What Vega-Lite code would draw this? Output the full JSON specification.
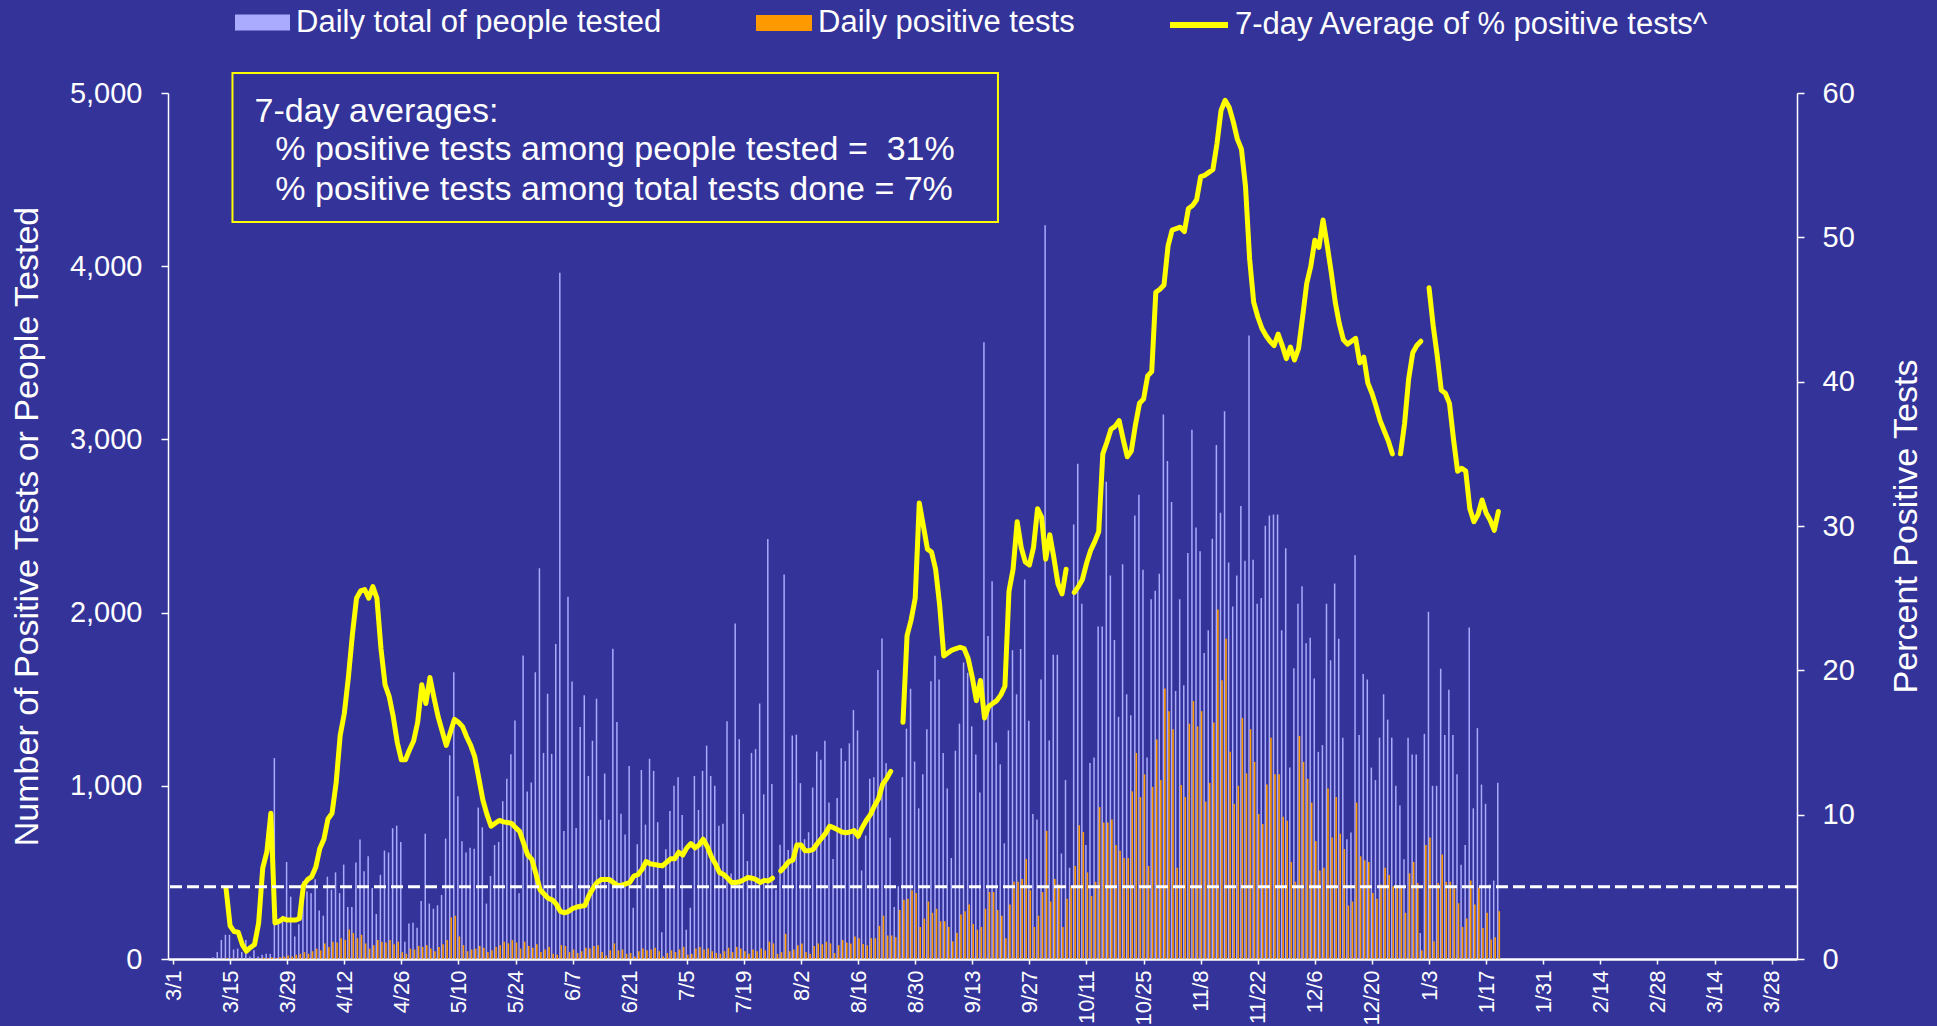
{
"$schema": "https://vega.github.io/schema/vega-lite/v6.json",
"width": 1629, "height": 866,
"autosize": {"type": "none"},
"padding": {"left": 168, "top": 93, "right": 140, "bottom": 67},
"background": "#333399",
"config": {
  "view": {"stroke": null},
  "font": "Liberation Sans",
  "axis": {"grid": false, "domainColor": "white", "tickColor": "white", "labelColor": "white", "titleColor": "white", "labelFont": "Liberation Sans", "titleFont": "Liberation Sans", "titleFontWeight": "normal"},
  "axisX": {"labelFontSize": 22, "labelAngle": 270, "labelPadding": 6, "tickSize": 5, "tickWidth": 1.5, "domainWidth": 2.5, "labelOverlap": false, "labelFlush": false},
  "axisY": {"labelFontSize": 29, "tickSize": 7, "tickWidth": 1.5, "domainWidth": 1.5, "titleFontSize": 34, "labelOverlap": false},
  "legend": {"labelColor": "white", "labelFont": "Liberation Sans", "labelFontSize": 31, "labelLimit": 1000, "padding": 0, "labelOffset": 6, "direction": "horizontal"}
},
"datasets": {"daily": [
{"date":"2020-03-11","tested":10,"positive":0,"pct":null,"seg":1},
{"date":"2020-03-12","tested":40,"positive":0,"pct":null,"seg":1},
{"date":"2020-03-13","tested":110,"positive":2,"pct":null,"seg":1},
{"date":"2020-03-14","tested":140,"positive":5,"pct":4.9,"seg":1},
{"date":"2020-03-15","tested":140,"positive":3,"pct":2.3,"seg":1},
{"date":"2020-03-16","tested":55,"positive":1,"pct":1.9,"seg":1},
{"date":"2020-03-17","tested":60,"positive":1,"pct":1.85,"seg":1},
{"date":"2020-03-18","tested":40,"positive":0,"pct":1.0,"seg":1},
{"date":"2020-03-19","tested":110,"positive":1,"pct":0.55,"seg":1},
{"date":"2020-03-20","tested":15,"positive":0,"pct":0.8,"seg":1},
{"date":"2020-03-21","tested":50,"positive":3,"pct":1.0,"seg":1},
{"date":"2020-03-22","tested":15,"positive":2,"pct":2.5,"seg":1},
{"date":"2020-03-23","tested":25,"positive":8,"pct":6.3,"seg":1},
{"date":"2020-03-24","tested":30,"positive":4,"pct":7.4,"seg":1},
{"date":"2020-03-25","tested":30,"positive":10,"pct":10.1,"seg":1},
{"date":"2020-03-26","tested":1160,"positive":5,"pct":2.5,"seg":1},
{"date":"2020-03-27","tested":230,"positive":10,"pct":2.6,"seg":1},
{"date":"2020-03-28","tested":250,"positive":15,"pct":2.8,"seg":1},
{"date":"2020-03-29","tested":560,"positive":20,"pct":2.7,"seg":1},
{"date":"2020-03-30","tested":360,"positive":15,"pct":2.7,"seg":1},
{"date":"2020-03-31","tested":130,"positive":25,"pct":2.7,"seg":1},
{"date":"2020-04-01","tested":200,"positive":30,"pct":2.8,"seg":1},
{"date":"2020-04-02","tested":450,"positive":40,"pct":5.1,"seg":1},
{"date":"2020-04-03","tested":390,"positive":30,"pct":5.5,"seg":1},
{"date":"2020-04-04","tested":380,"positive":45,"pct":5.7,"seg":1},
{"date":"2020-04-05","tested":460,"positive":60,"pct":6.35,"seg":1},
{"date":"2020-04-06","tested":280,"positive":50,"pct":7.65,"seg":1},
{"date":"2020-04-07","tested":250,"positive":90,"pct":8.3,"seg":1},
{"date":"2020-04-08","tested":475,"positive":70,"pct":9.7,"seg":1},
{"date":"2020-04-09","tested":400,"positive":100,"pct":10.1,"seg":1},
{"date":"2020-04-10","tested":500,"positive":95,"pct":12.2,"seg":1},
{"date":"2020-04-11","tested":380,"positive":120,"pct":15.5,"seg":1},
{"date":"2020-04-12","tested":545,"positive":110,"pct":17,"seg":1},
{"date":"2020-04-13","tested":300,"positive":170,"pct":19.5,"seg":1},
{"date":"2020-04-14","tested":300,"positive":150,"pct":22.5,"seg":1},
{"date":"2020-04-15","tested":557,"positive":120,"pct":25,"seg":1},
{"date":"2020-04-16","tested":690,"positive":140,"pct":25.5,"seg":1},
{"date":"2020-04-17","tested":507,"positive":90,"pct":25.6,"seg":1},
{"date":"2020-04-18","tested":593,"positive":60,"pct":25.0,"seg":1},
{"date":"2020-04-19","tested":410,"positive":80,"pct":25.8,"seg":1},
{"date":"2020-04-20","tested":260,"positive":110,"pct":25,"seg":1},
{"date":"2020-04-21","tested":486,"positive":100,"pct":21.5,"seg":1},
{"date":"2020-04-22","tested":626,"positive":95,"pct":19,"seg":1},
{"date":"2020-04-23","tested":615,"positive":110,"pct":18.2,"seg":1},
{"date":"2020-04-24","tested":755,"positive":85,"pct":16.8,"seg":1},
{"date":"2020-04-25","tested":770,"positive":100,"pct":15,"seg":1},
{"date":"2020-04-26","tested":676,"positive":40,"pct":13.8,"seg":1},
{"date":"2020-04-27","tested":100,"positive":30,"pct":13.8,"seg":1},
{"date":"2020-04-28","tested":205,"positive":60,"pct":14.5,"seg":1},
{"date":"2020-04-29","tested":210,"positive":55,"pct":15.1,"seg":1},
{"date":"2020-04-30","tested":180,"positive":75,"pct":16.4,"seg":1},
{"date":"2020-05-01","tested":335,"positive":70,"pct":19,"seg":1},
{"date":"2020-05-02","tested":723,"positive":80,"pct":17.7,"seg":1},
{"date":"2020-05-03","tested":320,"positive":60,"pct":19.5,"seg":1},
{"date":"2020-05-04","tested":290,"positive":45,"pct":18.1,"seg":1},
{"date":"2020-05-05","tested":310,"positive":70,"pct":16.8,"seg":1},
{"date":"2020-05-06","tested":370,"positive":85,"pct":15.8,"seg":1},
{"date":"2020-05-07","tested":695,"positive":110,"pct":14.8,"seg":1},
{"date":"2020-05-08","tested":1176,"positive":240,"pct":15.7,"seg":1},
{"date":"2020-05-09","tested":1655,"positive":250,"pct":16.6,"seg":1},
{"date":"2020-05-10","tested":939,"positive":130,"pct":16.4,"seg":1},
{"date":"2020-05-11","tested":680,"positive":80,"pct":16.1,"seg":1},
{"date":"2020-05-12","tested":615,"positive":45,"pct":15.4,"seg":1},
{"date":"2020-05-13","tested":643,"positive":55,"pct":14.8,"seg":1},
{"date":"2020-05-14","tested":637,"positive":60,"pct":14,"seg":1},
{"date":"2020-05-15","tested":874,"positive":75,"pct":12.5,"seg":1},
{"date":"2020-05-16","tested":760,"positive":65,"pct":11,"seg":1},
{"date":"2020-05-17","tested":320,"positive":40,"pct":10,"seg":1},
{"date":"2020-05-18","tested":479,"positive":50,"pct":9.2,"seg":1},
{"date":"2020-05-19","tested":658,"positive":70,"pct":9.4,"seg":1},
{"date":"2020-05-20","tested":676,"positive":80,"pct":9.6,"seg":1},
{"date":"2020-05-21","tested":911,"positive":100,"pct":9.5,"seg":1},
{"date":"2020-05-22","tested":1040,"positive":90,"pct":9.46,"seg":1},
{"date":"2020-05-23","tested":1182,"positive":110,"pct":9.4,"seg":1},
{"date":"2020-05-24","tested":1377,"positive":95,"pct":9.1,"seg":1},
{"date":"2020-05-25","tested":380,"positive":60,"pct":8.85,"seg":1},
{"date":"2020-05-26","tested":1752,"positive":100,"pct":8,"seg":1},
{"date":"2020-05-27","tested":967,"positive":75,"pct":7.2,"seg":1},
{"date":"2020-05-28","tested":1019,"positive":65,"pct":6.9,"seg":1},
{"date":"2020-05-29","tested":1655,"positive":85,"pct":5.9,"seg":1},
{"date":"2020-05-30","tested":2256,"positive":40,"pct":4.8,"seg":1},
{"date":"2020-05-31","tested":1190,"positive":55,"pct":4.5,"seg":1},
{"date":"2020-06-01","tested":1531,"positive":70,"pct":4.2,"seg":1},
{"date":"2020-06-02","tested":1184,"positive":30,"pct":4.1,"seg":1},
{"date":"2020-06-03","tested":1819,"positive":25,"pct":3.8,"seg":1},
{"date":"2020-06-04","tested":3962,"positive":80,"pct":3.3,"seg":1},
{"date":"2020-06-05","tested":739,"positive":75,"pct":3.2,"seg":1},
{"date":"2020-06-06","tested":2092,"positive":40,"pct":3.3,"seg":1},
{"date":"2020-06-07","tested":1602,"positive":55,"pct":3.5,"seg":1},
{"date":"2020-06-08","tested":756,"positive":35,"pct":3.6,"seg":1},
{"date":"2020-06-09","tested":1339,"positive":45,"pct":3.65,"seg":1},
{"date":"2020-06-10","tested":1523,"positive":65,"pct":3.7,"seg":1},
{"date":"2020-06-11","tested":1057,"positive":60,"pct":4.4,"seg":1},
{"date":"2020-06-12","tested":1260,"positive":75,"pct":4.9,"seg":1},
{"date":"2020-06-13","tested":1503,"positive":80,"pct":5.3,"seg":1},
{"date":"2020-06-14","tested":804,"positive":40,"pct":5.5,"seg":1},
{"date":"2020-06-15","tested":1071,"positive":20,"pct":5.5,"seg":1},
{"date":"2020-06-16","tested":804,"positive":50,"pct":5.5,"seg":1},
{"date":"2020-06-17","tested":1791,"positive":90,"pct":5.3,"seg":1},
{"date":"2020-06-18","tested":1368,"positive":50,"pct":5.1,"seg":1},
{"date":"2020-06-19","tested":838,"positive":55,"pct":5.1,"seg":1},
{"date":"2020-06-20","tested":719,"positive":30,"pct":5.2,"seg":1},
{"date":"2020-06-21","tested":1114,"positive":35,"pct":5.3,"seg":1},
{"date":"2020-06-22","tested":296,"positive":15,"pct":5.75,"seg":1},
{"date":"2020-06-23","tested":663,"positive":45,"pct":5.85,"seg":1},
{"date":"2020-06-24","tested":1091,"positive":60,"pct":6.2,"seg":1},
{"date":"2020-06-25","tested":776,"positive":50,"pct":6.75,"seg":1},
{"date":"2020-06-26","tested":1156,"positive":55,"pct":6.6,"seg":1},
{"date":"2020-06-27","tested":1086,"positive":65,"pct":6.55,"seg":1},
{"date":"2020-06-28","tested":790,"positive":45,"pct":6.5,"seg":1},
{"date":"2020-06-29","tested":155,"positive":15,"pct":6.45,"seg":1},
{"date":"2020-06-30","tested":634,"positive":35,"pct":6.7,"seg":1},
{"date":"2020-07-01","tested":854,"positive":50,"pct":6.94,"seg":1},
{"date":"2020-07-02","tested":1001,"positive":40,"pct":6.94,"seg":1},
{"date":"2020-07-03","tested":1049,"positive":55,"pct":7.4,"seg":1},
{"date":"2020-07-04","tested":832,"positive":70,"pct":7.2,"seg":1},
{"date":"2020-07-05","tested":169,"positive":25,"pct":7.7,"seg":1},
{"date":"2020-07-06","tested":296,"positive":30,"pct":8.0,"seg":1},
{"date":"2020-07-07","tested":1057,"positive":60,"pct":7.7,"seg":1},
{"date":"2020-07-08","tested":860,"positive":70,"pct":7.9,"seg":1},
{"date":"2020-07-09","tested":1086,"positive":55,"pct":8.3,"seg":1},
{"date":"2020-07-10","tested":1232,"positive":60,"pct":7.8,"seg":1},
{"date":"2020-07-11","tested":1057,"positive":45,"pct":7.1,"seg":1},
{"date":"2020-07-12","tested":1001,"positive":35,"pct":6.6,"seg":1},
{"date":"2020-07-13","tested":770,"positive":30,"pct":6.0,"seg":1},
{"date":"2020-07-14","tested":781,"positive":45,"pct":5.86,"seg":1},
{"date":"2020-07-15","tested":1373,"positive":65,"pct":5.6,"seg":1},
{"date":"2020-07-16","tested":493,"positive":40,"pct":5.3,"seg":1},
{"date":"2020-07-17","tested":1937,"positive":70,"pct":5.3,"seg":1},
{"date":"2020-07-18","tested":1269,"positive":60,"pct":5.35,"seg":1},
{"date":"2020-07-19","tested":838,"positive":45,"pct":5.5,"seg":1},
{"date":"2020-07-20","tested":566,"positive":30,"pct":5.65,"seg":1},
{"date":"2020-07-21","tested":1190,"positive":55,"pct":5.6,"seg":1},
{"date":"2020-07-22","tested":1212,"positive":45,"pct":5.5,"seg":1},
{"date":"2020-07-23","tested":1475,"positive":60,"pct":5.3,"seg":1},
{"date":"2020-07-24","tested":951,"positive":50,"pct":5.45,"seg":1},
{"date":"2020-07-25","tested":2425,"positive":100,"pct":5.4,"seg":1},
{"date":"2020-07-26","tested":1010,"positive":90,"pct":5.6,"seg":1},
{"date":"2020-07-27","tested":400,"positive":30,"pct":null,"seg":1},
{"date":"2020-07-28","tested":660,"positive":40,"pct":6.1,"seg":2},
{"date":"2020-07-29","tested":2220,"positive":145,"pct":6.4,"seg":2},
{"date":"2020-07-30","tested":630,"positive":45,"pct":6.75,"seg":2},
{"date":"2020-07-31","tested":1290,"positive":55,"pct":6.85,"seg":2},
{"date":"2020-08-01","tested":1295,"positive":80,"pct":7.9,"seg":2},
{"date":"2020-08-02","tested":1015,"positive":90,"pct":7.9,"seg":2},
{"date":"2020-08-03","tested":692,"positive":40,"pct":7.5,"seg":2},
{"date":"2020-08-04","tested":732,"positive":30,"pct":7.5,"seg":2},
{"date":"2020-08-05","tested":990,"positive":75,"pct":7.6,"seg":2},
{"date":"2020-08-06","tested":1198,"positive":90,"pct":8.0,"seg":2},
{"date":"2020-08-07","tested":1150,"positive":85,"pct":8.35,"seg":2},
{"date":"2020-08-08","tested":1260,"positive":100,"pct":8.7,"seg":2},
{"date":"2020-08-09","tested":904,"positive":90,"pct":9.2,"seg":2},
{"date":"2020-08-10","tested":578,"positive":35,"pct":9.1,"seg":2},
{"date":"2020-08-11","tested":930,"positive":80,"pct":8.96,"seg":2},
{"date":"2020-08-12","tested":1217,"positive":110,"pct":8.8,"seg":2},
{"date":"2020-08-13","tested":1143,"positive":95,"pct":8.75,"seg":2},
{"date":"2020-08-14","tested":1245,"positive":90,"pct":8.8,"seg":2},
{"date":"2020-08-15","tested":1437,"positive":130,"pct":8.9,"seg":2},
{"date":"2020-08-16","tested":1320,"positive":120,"pct":8.5,"seg":2},
{"date":"2020-08-17","tested":511,"positive":87,"pct":9.1,"seg":2},
{"date":"2020-08-18","tested":713,"positive":80,"pct":9.6,"seg":2},
{"date":"2020-08-19","tested":1040,"positive":120,"pct":10,"seg":2},
{"date":"2020-08-20","tested":1050,"positive":120,"pct":10.6,"seg":2},
{"date":"2020-08-21","tested":1669,"positive":191,"pct":11.1,"seg":2},
{"date":"2020-08-22","tested":1850,"positive":250,"pct":12.1,"seg":2},
{"date":"2020-08-23","tested":1130,"positive":136,"pct":12.5,"seg":2},
{"date":"2020-08-24","tested":700,"positive":136,"pct":13,"seg":2},
{"date":"2020-08-25","tested":300,"positive":126,"pct":null,"seg":2},
{"date":"2020-08-26","tested":420,"positive":283,"pct":null,"seg":2},
{"date":"2020-08-27","tested":1050,"positive":342,"pct":16.4,"seg":3},
{"date":"2020-08-28","tested":1330,"positive":348,"pct":22.4,"seg":3},
{"date":"2020-08-29","tested":1560,"positive":397,"pct":23.5,"seg":3},
{"date":"2020-08-30","tested":1140,"positive":381,"pct":25,"seg":3},
{"date":"2020-08-31","tested":870,"positive":185,"pct":31.6,"seg":3},
{"date":"2020-09-01","tested":1066,"positive":234,"pct":30,"seg":3},
{"date":"2020-09-02","tested":1327,"positive":332,"pct":28.4,"seg":3},
{"date":"2020-09-03","tested":1604,"positive":267,"pct":28.2,"seg":3},
{"date":"2020-09-04","tested":1751,"positive":290,"pct":27,"seg":3},
{"date":"2020-09-05","tested":1614,"positive":218,"pct":24.5,"seg":3},
{"date":"2020-09-06","tested":1190,"positive":218,"pct":21,"seg":3},
{"date":"2020-09-07","tested":984,"positive":185,"pct":21.2,"seg":3},
{"date":"2020-09-08","tested":583,"positive":103,"pct":21.4,"seg":3},
{"date":"2020-09-09","tested":1203,"positive":152,"pct":21.5,"seg":3},
{"date":"2020-09-10","tested":1359,"positive":257,"pct":21.6,"seg":3},
{"date":"2020-09-11","tested":1712,"positive":276,"pct":21.5,"seg":3},
{"date":"2020-09-12","tested":1653,"positive":315,"pct":20.8,"seg":3},
{"date":"2020-09-13","tested":1343,"positive":202,"pct":19.5,"seg":3},
{"date":"2020-09-14","tested":1180,"positive":169,"pct":17.9,"seg":3},
{"date":"2020-09-15","tested":961,"positive":185,"pct":19.3,"seg":3},
{"date":"2020-09-16","tested":3561,"positive":290,"pct":16.7,"seg":3},
{"date":"2020-09-17","tested":1865,"positive":387,"pct":17.5,"seg":3},
{"date":"2020-09-18","tested":2181,"positive":387,"pct":17.7,"seg":3},
{"date":"2020-09-19","tested":1250,"positive":283,"pct":17.9,"seg":3},
{"date":"2020-09-20","tested":1124,"positive":250,"pct":18.3,"seg":3},
{"date":"2020-09-21","tested":668,"positive":120,"pct":18.9,"seg":3},
{"date":"2020-09-22","tested":1320,"positive":315,"pct":25.5,"seg":3},
{"date":"2020-09-23","tested":1783,"positive":446,"pct":27,"seg":3},
{"date":"2020-09-24","tested":1529,"positive":446,"pct":30.3,"seg":3},
{"date":"2020-09-25","tested":1790,"positive":462,"pct":28.5,"seg":3},
{"date":"2020-09-26","tested":2191,"positive":577,"pct":27.5,"seg":3},
{"date":"2020-09-27","tested":1376,"positive":397,"pct":27.3,"seg":3},
{"date":"2020-09-28","tested":837,"positive":185,"pct":28.5,"seg":3},
{"date":"2020-09-29","tested":805,"positive":250,"pct":31.2,"seg":3},
{"date":"2020-09-30","tested":1614,"positive":387,"pct":30.6,"seg":3},
{"date":"2020-10-01","tested":4236,"positive":740,"pct":27.7,"seg":3},
{"date":"2020-10-02","tested":1261,"positive":332,"pct":29.4,"seg":3},
{"date":"2020-10-03","tested":1757,"positive":462,"pct":27.8,"seg":3},
{"date":"2020-10-04","tested":1757,"positive":430,"pct":26,"seg":3},
{"date":"2020-10-05","tested":609,"positive":185,"pct":25.3,"seg":3},
{"date":"2020-10-06","tested":1033,"positive":348,"pct":27,"seg":3},
{"date":"2020-10-07","tested":527,"positive":420,"pct":null,"seg":3},
{"date":"2020-10-08","tested":2508,"positive":537,"pct":25.4,"seg":4},
{"date":"2020-10-09","tested":2860,"positive":772,"pct":25.8,"seg":4},
{"date":"2020-10-10","tested":2051,"positive":733,"pct":26.3,"seg":4},
{"date":"2020-10-11","tested":658,"positive":500,"pct":27.4,"seg":4},
{"date":"2020-10-12","tested":1131,"positive":364,"pct":28.3,"seg":4},
{"date":"2020-10-13","tested":1164,"positive":446,"pct":28.9,"seg":4},
{"date":"2020-10-14","tested":1920,"positive":877,"pct":29.6,"seg":4},
{"date":"2020-10-15","tested":1920,"positive":788,"pct":35,"seg":4},
{"date":"2020-10-16","tested":2755,"positive":788,"pct":35.8,"seg":4},
{"date":"2020-10-17","tested":2214,"positive":805,"pct":36.7,"seg":4},
{"date":"2020-10-18","tested":1842,"positive":658,"pct":36.9,"seg":4},
{"date":"2020-10-19","tested":1398,"positive":625,"pct":37.3,"seg":4},
{"date":"2020-10-20","tested":2279,"positive":583,"pct":36,"seg":4},
{"date":"2020-10-21","tested":1529,"positive":583,"pct":34.8,"seg":4},
{"date":"2020-10-22","tested":1408,"positive":968,"pct":35.2,"seg":4},
{"date":"2020-10-23","tested":2560,"positive":1190,"pct":37,"seg":4},
{"date":"2020-10-24","tested":2680,"positive":935,"pct":38.5,"seg":4},
{"date":"2020-10-25","tested":2247,"positive":1066,"pct":38.8,"seg":4},
{"date":"2020-10-26","tested":1164,"positive":537,"pct":40.4,"seg":4},
{"date":"2020-10-27","tested":2077,"positive":994,"pct":40.7,"seg":4},
{"date":"2020-10-28","tested":2126,"positive":1268,"pct":46.2,"seg":4},
{"date":"2020-10-29","tested":2224,"positive":1033,"pct":46.4,"seg":4},
{"date":"2020-10-30","tested":3144,"positive":1562,"pct":46.7,"seg":4},
{"date":"2020-10-31","tested":2876,"positive":1431,"pct":49.4,"seg":4},
{"date":"2020-11-01","tested":2638,"positive":1327,"pct":50.5,"seg":4},
{"date":"2020-11-02","tested":1548,"positive":527,"pct":50.6,"seg":4},
{"date":"2020-11-03","tested":2077,"positive":1004,"pct":50.7,"seg":4},
{"date":"2020-11-04","tested":1581,"positive":935,"pct":50.4,"seg":4},
{"date":"2020-11-05","tested":2344,"positive":1359,"pct":52,"seg":4},
{"date":"2020-11-06","tested":3056,"positive":1490,"pct":52.2,"seg":4},
{"date":"2020-11-07","tested":2491,"positive":1343,"pct":52.6,"seg":4},
{"date":"2020-11-08","tested":2354,"positive":1431,"pct":54.2,"seg":4},
{"date":"2020-11-09","tested":1767,"positive":909,"pct":54.3,"seg":4},
{"date":"2020-11-10","tested":1898,"positive":1017,"pct":54.5,"seg":4},
{"date":"2020-11-11","tested":2426,"positive":1366,"pct":54.7,"seg":4},
{"date":"2020-11-12","tested":2968,"positive":2018,"pct":56.5,"seg":4},
{"date":"2020-11-13","tested":2576,"positive":1610,"pct":58.8,"seg":4},
{"date":"2020-11-14","tested":3163,"positive":1849,"pct":59.5,"seg":4},
{"date":"2020-11-15","tested":2289,"positive":1196,"pct":59,"seg":4},
{"date":"2020-11-16","tested":2035,"positive":896,"pct":58,"seg":4},
{"date":"2020-11-17","tested":2214,"positive":1000,"pct":56.8,"seg":4},
{"date":"2020-11-18","tested":2615,"positive":1392,"pct":56.1,"seg":4},
{"date":"2020-11-19","tested":2299,"positive":1072,"pct":53.5,"seg":4},
{"date":"2020-11-20","tested":3600,"positive":1327,"pct":48.5,"seg":4},
{"date":"2020-11-21","tested":2305,"positive":1138,"pct":45.5,"seg":4},
{"date":"2020-11-22","tested":2051,"positive":837,"pct":44.5,"seg":4},
{"date":"2020-11-23","tested":2084,"positive":779,"pct":43.7,"seg":4},
{"date":"2020-11-24","tested":2501,"positive":1007,"pct":43.2,"seg":4},
{"date":"2020-11-25","tested":2560,"positive":1278,"pct":42.8,"seg":4},
{"date":"2020-11-26","tested":2566,"positive":1066,"pct":42.5,"seg":4},
{"date":"2020-11-27","tested":2566,"positive":1066,"pct":43.3,"seg":4},
{"date":"2020-11-28","tested":1898,"positive":821,"pct":42.5,"seg":4},
{"date":"2020-11-29","tested":2371,"positive":798,"pct":41.6,"seg":4},
{"date":"2020-11-30","tested":1105,"positive":560,"pct":42.4,"seg":4},
{"date":"2020-12-01","tested":1679,"positive":446,"pct":41.5,"seg":4},
{"date":"2020-12-02","tested":2051,"positive":1288,"pct":42.3,"seg":4},
{"date":"2020-12-03","tested":2152,"positive":1138,"pct":44.5,"seg":4},
{"date":"2020-12-04","tested":1823,"positive":1040,"pct":46.8,"seg":4},
{"date":"2020-12-05","tested":1855,"positive":903,"pct":48,"seg":4},
{"date":"2020-12-06","tested":1620,"positive":681,"pct":49.8,"seg":4},
{"date":"2020-12-07","tested":1196,"positive":511,"pct":49.3,"seg":4},
{"date":"2020-12-08","tested":1235,"positive":527,"pct":51.2,"seg":4},
{"date":"2020-12-09","tested":2051,"positive":984,"pct":49.5,"seg":4},
{"date":"2020-12-10","tested":1725,"positive":701,"pct":47.6,"seg":4},
{"date":"2020-12-11","tested":2168,"positive":935,"pct":45.5,"seg":4},
{"date":"2020-12-12","tested":1849,"positive":723,"pct":44,"seg":4},
{"date":"2020-12-13","tested":1278,"positive":635,"pct":42.9,"seg":4},
{"date":"2020-12-14","tested":691,"positive":309,"pct":42.6,"seg":4},
{"date":"2020-12-15","tested":730,"positive":332,"pct":42.8,"seg":4},
{"date":"2020-12-16","tested":2331,"positive":903,"pct":43,"seg":4},
{"date":"2020-12-17","tested":1294,"positive":593,"pct":41.3,"seg":4},
{"date":"2020-12-18","tested":1646,"positive":570,"pct":41.7,"seg":4},
{"date":"2020-12-19","tested":1614,"positive":560,"pct":39.9,"seg":4},
{"date":"2020-12-20","tested":1105,"positive":381,"pct":39.2,"seg":4},
{"date":"2020-12-21","tested":1033,"positive":348,"pct":38.3,"seg":4},
{"date":"2020-12-22","tested":1278,"positive":430,"pct":37.3,"seg":4},
{"date":"2020-12-23","tested":1529,"positive":527,"pct":36.6,"seg":4},
{"date":"2020-12-24","tested":1382,"positive":485,"pct":35.9,"seg":4},
{"date":"2020-12-25","tested":1278,"positive":420,"pct":35,"seg":4},
{"date":"2020-12-26","tested":1000,"positive":423,"pct":null,"seg":4},
{"date":"2020-12-27","tested":886,"positive":413,"pct":35,"seg":5},
{"date":"2020-12-28","tested":576,"positive":267,"pct":37.1,"seg":5},
{"date":"2020-12-29","tested":1278,"positive":495,"pct":40.2,"seg":5},
{"date":"2020-12-30","tested":1180,"positive":560,"pct":42,"seg":5},
{"date":"2020-12-31","tested":1180,"positive":439,"pct":42.5,"seg":5},
{"date":"2021-01-01","tested":150,"positive":50,"pct":42.8,"seg":5},
{"date":"2021-01-02","tested":1300,"positive":658,"pct":null,"seg":5},
{"date":"2021-01-03","tested":2005,"positive":701,"pct":46.5,"seg":6},
{"date":"2021-01-04","tested":1000,"positive":103,"pct":43.9,"seg":6},
{"date":"2021-01-05","tested":1000,"positive":439,"pct":41.8,"seg":6},
{"date":"2021-01-06","tested":1676,"positive":603,"pct":39.4,"seg":6},
{"date":"2021-01-07","tested":1294,"positive":446,"pct":39.2,"seg":6},
{"date":"2021-01-08","tested":1555,"positive":446,"pct":38.5,"seg":6},
{"date":"2021-01-09","tested":1294,"positive":407,"pct":36,"seg":6},
{"date":"2021-01-10","tested":1066,"positive":322,"pct":33.8,"seg":6},
{"date":"2021-01-11","tested":544,"positive":185,"pct":34,"seg":6},
{"date":"2021-01-12","tested":658,"positive":234,"pct":33.8,"seg":6},
{"date":"2021-01-13","tested":1914,"positive":453,"pct":31.2,"seg":6},
{"date":"2021-01-14","tested":870,"positive":315,"pct":30.3,"seg":6},
{"date":"2021-01-15","tested":1333,"positive":413,"pct":30.8,"seg":6},
{"date":"2021-01-16","tested":1007,"positive":179,"pct":31.8,"seg":6},
{"date":"2021-01-17","tested":896,"positive":267,"pct":30.9,"seg":6},
{"date":"2021-01-18","tested":430,"positive":113,"pct":30.4,"seg":6},
{"date":"2021-01-19","tested":453,"positive":126,"pct":29.7,"seg":6},
{"date":"2021-01-20","tested":1017,"positive":276,"pct":31,"seg":6}
]},
"layer": [
  {
    "layer": [
      {
        "data": {"name": "daily"},
        "mark": {"type": "bar", "width": 1.5, "xOffset": -0.6},
        "encoding": {
          "x": {"field": "date", "type": "temporal", "title": null,
                "scale": {"type": "utc", "domain": [{"year": 2020, "month": 3, "date": 1, "utc": true}, {"year": 2021, "month": 4, "date": 2, "utc": true}]},
                "axis": {"format": "%-m/%-d", "values": [
                  {"year":2020,"month":3,"date":1,"utc":true},{"year":2020,"month":3,"date":15,"utc":true},{"year":2020,"month":3,"date":29,"utc":true},
                  {"year":2020,"month":4,"date":12,"utc":true},{"year":2020,"month":4,"date":26,"utc":true},{"year":2020,"month":5,"date":10,"utc":true},
                  {"year":2020,"month":5,"date":24,"utc":true},{"year":2020,"month":6,"date":7,"utc":true},{"year":2020,"month":6,"date":21,"utc":true},
                  {"year":2020,"month":7,"date":5,"utc":true},{"year":2020,"month":7,"date":19,"utc":true},{"year":2020,"month":8,"date":2,"utc":true},
                  {"year":2020,"month":8,"date":16,"utc":true},{"year":2020,"month":8,"date":30,"utc":true},{"year":2020,"month":9,"date":13,"utc":true},
                  {"year":2020,"month":9,"date":27,"utc":true},{"year":2020,"month":10,"date":11,"utc":true},{"year":2020,"month":10,"date":25,"utc":true},
                  {"year":2020,"month":11,"date":8,"utc":true},{"year":2020,"month":11,"date":22,"utc":true},{"year":2020,"month":12,"date":6,"utc":true},
                  {"year":2020,"month":12,"date":20,"utc":true},{"year":2021,"month":1,"date":3,"utc":true},{"year":2021,"month":1,"date":17,"utc":true},
                  {"year":2021,"month":1,"date":31,"utc":true},{"year":2021,"month":2,"date":14,"utc":true},{"year":2021,"month":2,"date":28,"utc":true},
                  {"year":2021,"month":3,"date":14,"utc":true},{"year":2021,"month":3,"date":28,"utc":true}]}},
          "y": {"field": "tested", "type": "quantitative", "title": "Number of Positive Tests or People Tested",
                "scale": {"domain": [0, 5000]},
                "axis": {"orient": "left", "values": [0, 1000, 2000, 3000, 4000, 5000], "format": ",d", "labelPadding": 19,
                         "titleAngle": 270, "titleX": -141, "titleY": 433, "titleAlign": "center", "titleBaseline": "middle"}},
          "fill": {"datum": "Daily total of people tested", "type": "nominal",
                   "scale": {"range": ["#AAAAFF"]},
                   "legend": {"title": null, "orient": "none", "legendX": 67, "legendY": -98, "symbolType": "M-1,-0.29H1V0.29H-1Z", "symbolSize": 3025, "symbolStrokeWidth": 0, "labelOffset": 6, "labelLimit": 1000}}
        }
      },
      {
        "data": {"name": "daily"},
        "mark": {"type": "bar", "width": 1.6, "xOffset": 0.9},
        "encoding": {
          "x": {"field": "date", "type": "temporal", "title": null},
          "y": {"field": "positive", "type": "quantitative", "title": "Number of Positive Tests or People Tested"},
          "color": {"datum": "Daily positive tests", "type": "nominal",
                    "scale": {"range": ["#FF9900"]},
                    "legend": {"title": null, "orient": "none", "legendX": 588, "legendY": -98, "symbolType": "M-1,-0.29H1V0.29H-1Z", "symbolSize": 3136, "symbolStrokeWidth": 0, "labelOffset": 6, "labelLimit": 1000}}
        }
      },
      {
        "data": {"values": [{}]},
        "mark": {"type": "rect", "fill": null, "stroke": "#FFFF00", "strokeWidth": 2},
        "encoding": {
          "x": {"datum": {"year": 2020, "month": 3, "date": 15, "hours": 14, "utc": true}, "type": "temporal"},
          "x2": {"datum": {"year": 2020, "month": 9, "date": 19, "hours": 7, "utc": true}},
          "y": {"datum": 5115, "type": "quantitative"},
          "y2": {"datum": 4255}
        }
      },
      {
        "data": {"values": [{}]},
        "mark": {"type": "text", "align": "left", "baseline": "middle", "fontSize": 34, "color": "white", "font": "Liberation Sans", "text": "7-day averages:"},
        "encoding": {
          "x": {"datum": {"year": 2020, "month": 3, "date": 21, "utc": true}, "type": "temporal"},
          "y": {"datum": 4890, "type": "quantitative"}
        }
      },
      {
        "data": {"values": [{}]},
        "mark": {"type": "text", "align": "left", "baseline": "middle", "fontSize": 34, "color": "white", "font": "Liberation Sans", "text": "% positive tests among people tested = \u00a031%"},
        "encoding": {
          "x": {"datum": {"year": 2020, "month": 3, "date": 26, "hours": 2, "utc": true}, "type": "temporal"},
          "y": {"datum": 4671, "type": "quantitative"}
        }
      },
      {
        "data": {"values": [{}]},
        "mark": {"type": "text", "align": "left", "baseline": "middle", "fontSize": 34, "color": "white", "font": "Liberation Sans", "text": "% positive tests among total tests done = 7%"},
        "encoding": {
          "x": {"datum": {"year": 2020, "month": 3, "date": 26, "hours": 2, "utc": true}, "type": "temporal"},
          "y": {"datum": 4440, "type": "quantitative"}
        }
      }
    ]
  },
  {
    "layer": [
      {
        "data": {"name": "daily"},
        "mark": {"type": "line", "strokeWidth": 5, "strokeCap": "round", "strokeJoin": "round"},
        "encoding": {
          "x": {"field": "date", "type": "temporal", "title": null},
          "y": {"field": "pct", "type": "quantitative", "title": "Percent Positive Tests",
                "scale": {"domain": [0, 60]},
                "axis": {"orient": "right", "values": [0, 10, 20, 30, 40, 50, 60], "labelPadding": 18,
                         "titleAngle": 270, "titleX": 109, "titleY": 433, "titleAlign": "center", "titleBaseline": "middle"}},
          "detail": {"field": "seg", "type": "nominal"},
          "stroke": {"datum": "7-day Average of % positive tests^", "type": "nominal",
                     "scale": {"range": ["#FFFF00"]},
                     "legend": {"title": null, "orient": "none", "legendX": 999, "legendY": -100, "symbolType": "stroke", "symbolSize": 3364, "symbolStrokeWidth": 6, "labelOffset": 4, "labelLimit": 1000}}
        }
      },
      {
        "data": {"values": [{}]},
        "mark": {"type": "rule", "color": "white", "strokeWidth": 3, "strokeDash": [12, 5]},
        "encoding": {"y": {"datum": 5, "type": "quantitative"}}
      }
    ]
  }
],
"resolve": {"scale": {"y": "independent"}}
}
